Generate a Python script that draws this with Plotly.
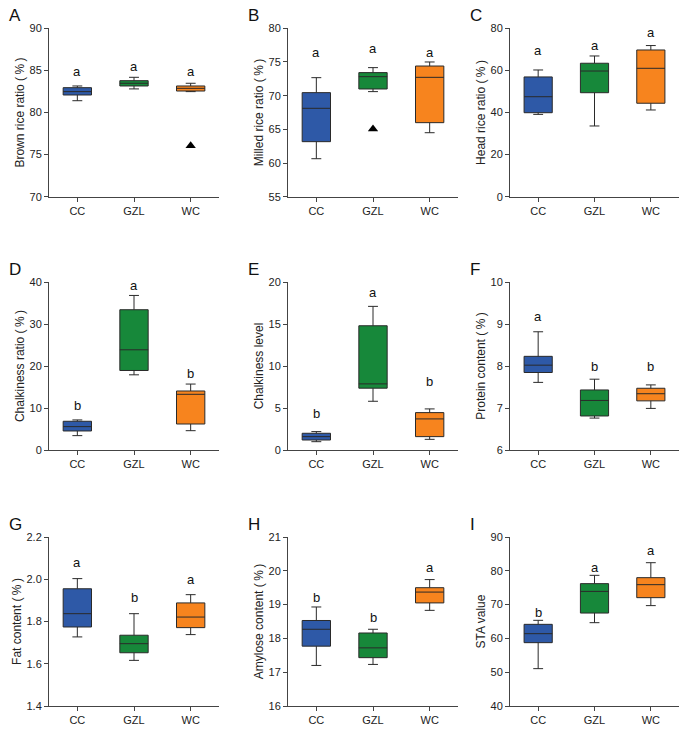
import plotly.graph_objects as go

groups = ["CC", "GZL", "WC"]
colors = ["#2E59A7", "#17883A", "#F7841E"]

panel_letters = ["A", "B", "C", "D", "E", "F", "G", "H", "I"]
y_titles = ["Brown rice ratio (\u2009%\u2009)", "Milled rice ratio (\u2009%\u2009)", "Head rice ratio (\u2009%\u2009)",
            "Chalkiness ratio (\u2009%\u2009)", "Chalkiness level", "Protein content (\u2009%\u2009)",
            "Fat content (\u2009%\u2009)", "Amylose content (\u2009%\u2009)", "STA value"]
y_ranges = [[70, 90], [55, 80], [0, 80], [0, 40], [0, 20], [6, 10], [1.4, 2.2], [16, 21], [40, 90]]
y_dticks = [5, 5, 20, 10, 5, 1, 0.2, 1, 10]
y_formats = ["", "", "", "", "", "", ".1f", "", ""]

# box statistics per panel, order CC, GZL, WC
lower = [[81.4, 82.8, 82.48], [60.64, 70.6, 64.5], [39.1, 33.6, 41.2],
         [3.42, 17.9, 4.6], [0.99, 5.8, 1.27], [7.61, 6.76, 6.99],
         [1.727, 1.616, 1.738], [17.2, 17.23, 18.83], [51.05, 64.65, 69.7]]
q1 = [[82.08, 83.15, 82.55], [63.17, 70.99, 65.99], [39.9, 49.4, 44.4],
      [4.53, 18.93, 6.19], [1.19, 7.36, 1.59], [7.845, 6.81, 7.17],
      [1.774, 1.652, 1.771], [17.77, 17.43, 19.05], [58.74, 67.5, 72.05]]
median = [[82.48, 83.47, 82.87], [68.12, 72.82, 72.72], [47.5, 59.7, 61.0],
          [5.57, 23.86, 13.26], [1.59, 7.87, 3.7], [8.02, 7.18, 7.34],
          [1.837, 1.695, 1.821], [18.27, 17.72, 19.37], [61.4, 73.9, 75.9]]
q3 = [[82.95, 83.78, 83.15], [70.45, 73.42, 74.4], [56.9, 63.4, 69.7],
      [6.84, 33.4, 14.05], [1.99, 14.79, 4.45], [8.23, 7.43, 7.47],
      [1.955, 1.735, 1.888], [18.53, 18.16, 19.5], [64.16, 76.2, 77.97]]
upper = [[83.15, 84.18, 83.47], [72.67, 74.16, 75.0], [60.2, 66.85, 71.8],
         [7.16, 36.8, 15.7], [2.19, 17.1, 4.89], [8.815, 7.686, 7.55],
         [2.003, 1.837, 1.927], [18.93, 18.27, 19.74], [65.35, 78.66, 82.4]]

# outliers (panel index, group, value)
outlier_panel = [0, 1]
outlier_group = ["WC", "GZL"]
outlier_value = [76.06, 65.05]

# significance letters and their heights
sig_letters = [["a", "a", "a"], ["a", "a", "a"], ["a", "a", "a"],
               ["b", "a", "b"], ["b", "a", "b"], ["a", "b", "b"],
               ["a", "b", "a"], ["b", "b", "a"], ["b", "a", "a"]]
sig_y = [[84.85, 85.45, 84.85], [76.4, 77.0, 76.4], [69.4, 71.8, 78.1],
         [10.5, 39.1, 18.3], [4.37, 18.7, 8.15], [9.18, 7.99, 7.99],
         [2.077, 1.916, 2.0], [19.2, 18.63, 20.09], [67.6, 80.9, 85.9]]

W, H = 685, 730
col_px = [(49, 219), (288, 458), (510, 679)]
row_px = [(28.3, 196.7), (282, 450), (537, 706)]

fig = go.Figure()
layout = dict(width=W, height=H, margin=dict(l=0, r=0, t=0, b=0, autoexpand=False),
              paper_bgcolor="white", plot_bgcolor="white", showlegend=False,
              font=dict(family="Liberation Sans, Arial, sans-serif", color="#222"),
              boxmode="overlay", annotations=[])

axis_color = "#444"
for p in range(9):
    r, c = divmod(p, 3)
    xs = "" if p == 0 else str(p + 1)
    x0, x1 = col_px[c]
    y0, y1 = row_px[r]
    layout["xaxis" + xs] = dict(
        domain=[x0 / W, x1 / W], anchor="y" + xs, type="category",
        categoryorder="array", categoryarray=groups, range=[-0.5, 2.5],
        showline=True, linecolor=axis_color, linewidth=1, ticks="outside",
        ticklen=4, tickcolor=axis_color, showgrid=False, zeroline=False,
        automargin=False,
        tickfont=dict(size=11, color="#222"), fixedrange=True)
    layout["yaxis" + xs] = dict(
        domain=[1 - y1 / H, 1 - y0 / H], anchor="x" + xs, range=y_ranges[p],
        dtick=y_dticks[p], tick0=y_ranges[p][0], tickformat=y_formats[p],
        showline=True, linecolor=axis_color, linewidth=1, ticks="outside",
        ticklen=4, tickcolor=axis_color, showgrid=False, zeroline=False,
        automargin=False,
        tickfont=dict(size=11, color="#222"),
        title=dict(text=y_titles[p], font=dict(size=12, color="#222"), standoff=2))
    for g in range(3):
        fig.add_trace(go.Box(
            x=[groups[g]], q1=[q1[p][g]], median=[median[p][g]], q3=[q3[p][g]],
            lowerfence=[lower[p][g]], upperfence=[upper[p][g]],
            fillcolor=colors[g], line=dict(color="#2a2a2a", width=1),
            width=0.5, whiskerwidth=0.35, boxpoints=False,
            xaxis="x" + xs, yaxis="y" + xs, hoverinfo="skip"))
        layout["annotations"].append(dict(
            x=groups[g], y=sig_y[p][g], xref="x" + xs, yref="y" + xs,
            text=sig_letters[p][g], showarrow=False,
            font=dict(size=13, color="#111")))
    layout["annotations"].append(dict(
        x=(x0 - 42) / W, y=1 - (y0 - 13) / H, xref="paper", yref="paper",
        text=panel_letters[p], showarrow=False, xanchor="left", yanchor="middle",
        font=dict(size=17, color="#111")))

for pi, grp, val in zip(outlier_panel, outlier_group, outlier_value):
    xs = "" if pi == 0 else str(pi + 1)
    fig.add_trace(go.Scatter(
        x=[grp], y=[val], mode="markers", xaxis="x" + xs, yaxis="y" + xs,
        marker=dict(symbol="triangle-up", size=9, color="black"), hoverinfo="skip"))

fig.update_layout(**layout)
fig.write_html("out.html", config={"displayModeBar": False, "staticPlot": True},
               post_script="document.body.style.margin='0';document.body.style.overflow='hidden';")
